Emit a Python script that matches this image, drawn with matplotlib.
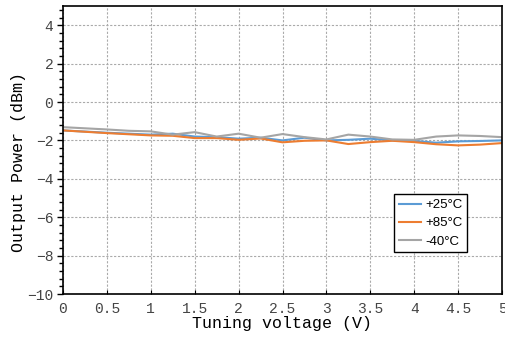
import matplotlib
matplotlib.use("Agg")
import matplotlib.pyplot as plt
from matplotlib.ticker import AutoMinorLocator

# tuning voltage (V) and output power (dBm) per temperature
voltage = [0, 0.25, 0.5, 0.75, 1.0, 1.25, 1.5, 1.75, 2.0, 2.25, 2.5,
           2.75, 3.0, 3.25, 3.5, 3.75, 4.0, 4.25, 4.5, 4.75, 5.0]
p_25 = [-1.48, -1.54, -1.60, -1.65, -1.70, -1.65, -1.80, -1.83, -1.91, -1.86, -2.00,
        -1.86, -2.00, -1.97, -1.91, -2.00, -2.03, -2.12, -2.05, -2.03, -2.00]
p_85 = [-1.48, -1.55, -1.62, -1.68, -1.74, -1.76, -1.88, -1.88, -1.97, -1.90, -2.10,
        -2.02, -2.00, -2.19, -2.09, -2.02, -2.09, -2.20, -2.26, -2.22, -2.14]
p_m40 = [-1.31, -1.37, -1.43, -1.50, -1.53, -1.70, -1.57, -1.80, -1.65, -1.86, -1.67,
         -1.83, -1.95, -1.70, -1.80, -1.95, -1.97, -1.80, -1.74, -1.77, -1.83]
labels = ["+25°C", "+85°C", "-40°C"]
colors = ["#5B9BD5", "#ED7D31", "#A5A5A5"]
xticks = [0, 0.5, 1, 1.5, 2, 2.5, 3, 3.5, 4, 4.5, 5]
xticklabels = ["0", "0.5", "1", "1.5", "2", "2.5", "3", "3.5", "4", "4.5", "5"]
yticks = [-10, -8, -6, -4, -2, 0, 2, 4]
yticklabels = ["\u221210", "\u22128", "\u22126", "\u22124", "\u22122", "0", "2", "4"]

mono = ["Liberation Mono", "DejaVu Sans Mono"]

fig = plt.figure(figsize=(5.06, 3.42), dpi=100)
ax = fig.add_axes([63/506, 48/342, 439/506, 288/342])

for ys, lab, c in zip([p_25, p_85, p_m40], labels, colors):
    ax.plot(voltage, ys, color=c, lw=1.5, label=lab)

ax.set_xlim(0, 5)
ax.set_ylim(-10, 5)
ax.yaxis.set_minor_locator(AutoMinorLocator(5))
ax.set_xticks(xticks)
ax.set_xticklabels(xticklabels, family=mono, fontsize=10.5, color="#444444")
ax.set_yticks(yticks)
ax.set_yticklabels(yticklabels, family=mono, fontsize=10.5, color="#444444")
ax.tick_params(axis="x", direction="in", length=3, pad=6)
ax.tick_params(axis="y", which="major", direction="out", length=4, width=1, pad=3)
ax.tick_params(axis="y", which="minor", direction="out", length=3, width=1)

ax.grid(True, which="major", color="#aaaaaa", linestyle=(0, (2, 1.5)), lw=0.8)
for s in ax.spines.values():
    s.set_linewidth(1.2)
    s.set_color("black")

ax.set_xlabel("Tuning voltage (V)", family=mono, fontsize=12, labelpad=0)
ax.set_ylabel("Output Power (dBm)", family=mono, fontsize=12)
ax.yaxis.set_label_coords(-0.085, 0.46)

leg = ax.legend(loc="lower left", bbox_to_anchor=(0.755, 0.145), fancybox=False,
                framealpha=1, edgecolor="black", handlelength=1.7, handletextpad=0.3,
                borderpad=0.35, labelspacing=0.45, borderaxespad=0,
                prop={"family": "Liberation Sans", "size": 9.5})
leg.get_frame().set_linewidth(1.0)

# title sits above the visible area, only descenders peek in
fig.text(146/506, 1 + 3.5/342, "Tuning voltage vs Output Power", family=mono,
         fontsize=12.4, va="baseline", ha="left", color="#444444")

fig.savefig("out.png", dpi=100)
